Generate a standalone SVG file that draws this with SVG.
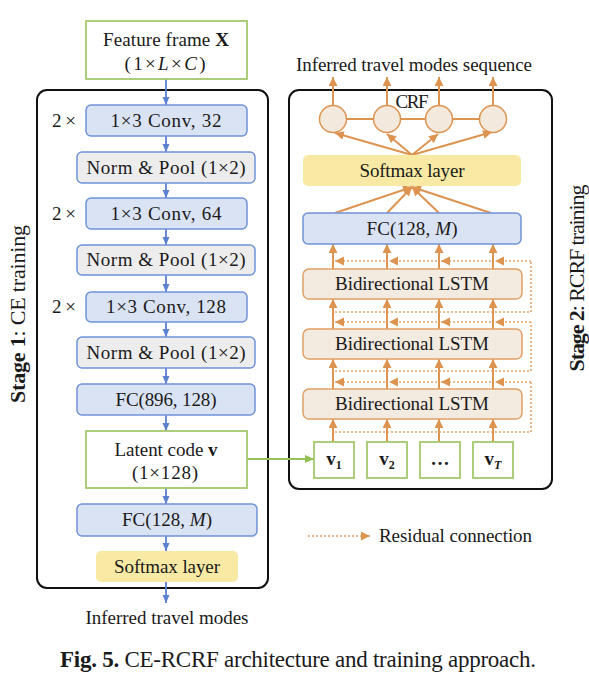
<svg xmlns="http://www.w3.org/2000/svg" width="589" height="682" viewBox="0 0 589 682">
<defs>
<marker id="ab" markerUnits="userSpaceOnUse" markerWidth="9" markerHeight="8" refX="8" refY="4" orient="auto"><path d="M0,0.5 L8,4 L0,7.5 z" fill="#5B80D0"/></marker>
<marker id="ao" markerUnits="userSpaceOnUse" markerWidth="10" markerHeight="10" refX="9" refY="4.5" orient="auto"><path d="M0,0 L9,4.5 L0,9 z" fill="#DE9451"/></marker>
<marker id="ag" markerUnits="userSpaceOnUse" markerWidth="10" markerHeight="10" refX="9" refY="4.5" orient="auto"><path d="M0,0.5 L9,4.5 L0,8.5 z" fill="#8FC050"/></marker>
</defs>
<style>
text{font-family:"Liberation Serif","Times New Roman",serif;font-size:19px;fill:#1a1a1a}
text.stage{font-size:22px}
text.cap{font-size:23px}
.c{text-anchor:middle}
.conv{fill:#DAE3F3;stroke:#7093DA;stroke-width:1.5}
.norm{fill:#EDEDED;stroke:#7093DA;stroke-width:1.5}
.grn{fill:#fff;stroke:#A4C96C;stroke-width:1.8}
.soft{fill:#F8EAA4}
.lstm{fill:#F4EBE0;stroke:#E0A066;stroke-width:1.5}
.crf{fill:#F3E9DD;stroke:#DE9451;stroke-width:1.5}
.frame{fill:none;stroke:#111;stroke-width:2}
.bl{stroke:#5B80D0;stroke-width:1.8;fill:none;marker-end:url(#ab)}
.or{stroke:#DE9451;stroke-width:2;fill:none}
.ora{marker-end:url(#ao)}
.dot{stroke:#E6A46A;stroke-width:1.6;fill:none;stroke-dasharray:2 2}
.dota{marker-end:url(#ao)}
.sub{font-size:12px}
</style>

<rect class="frame" x="37" y="90" width="231" height="498" rx="10"/>
<rect class="frame" x="289" y="90" width="263" height="399" rx="10"/>

<g id="connectors">
<g>
<line class="bl" x1="166" y1="79" x2="166" y2="105"/>
<line class="bl" x1="166" y1="136" x2="166" y2="152"/>
<line class="bl" x1="166" y1="183" x2="166" y2="198"/>
<line class="bl" x1="166" y1="229" x2="166" y2="245"/>
<line class="bl" x1="166" y1="275" x2="166" y2="292"/>
<line class="bl" x1="166" y1="322" x2="166" y2="337"/>
<line class="bl" x1="166" y1="368" x2="166" y2="384"/>
<line class="bl" x1="166" y1="415" x2="166" y2="431"/>
<line class="bl" x1="166" y1="488" x2="166" y2="504"/>
<line class="bl" x1="166" y1="536" x2="166" y2="551"/>
<line class="bl" x1="166" y1="582" x2="166" y2="603"/>
</g>
<path d="M247,459 H314" stroke="#95C25A" stroke-width="1.8" fill="none" marker-end="url(#ag)"/>
<g class="or">
<path d="M346.5,119 H373.5 M400.5,119 H425.5 M452.5,119 H479.5"/>
</g>
<g class="or ora">
<path d="M333,105.5 V77"/><path d="M387,105.5 V77"/><path d="M439,105.5 V77"/><path d="M493,105.5 V77"/>
<path d="M412,155 L335,133"/><path d="M412,155 L387,134"/><path d="M412,155 L438,134"/><path d="M412,155 L492,132"/>
<path d="M335,213 L412,187"/><path d="M387,213 L412,187"/><path d="M439,213 L412,187"/><path d="M491,213 L412,187"/>
<path d="M333,269 V244"/><path d="M387,269 V244"/><path d="M439,269 V244"/><path d="M493,269 V244"/>
<path d="M333,329 V299"/><path d="M387,329 V299"/><path d="M439,329 V299"/><path d="M493,329 V299"/>
<path d="M333,389 V359"/><path d="M387,389 V359"/><path d="M439,389 V359"/><path d="M493,389 V359"/>
<path d="M333,442 V419"/><path d="M387,442 V419"/><path d="M439,442 V419"/><path d="M493,442 V419"/>
</g>
<g class="dot">
<path d="M335,312 H531 V261"/>
<path d="M335,371 H531 V322"/>
<path d="M335,432 H531 V382"/>
</g>
<g class="dot dota">
<path d="M531,261 H495"/><path d="M491,261 H441"/><path d="M437,261 H389"/><path d="M385,261 H335"/>
<path d="M531,322 H495"/><path d="M491,322 H441"/><path d="M437,322 H389"/><path d="M385,322 H335"/>
<path d="M531,382 H495"/><path d="M491,382 H441"/><path d="M437,382 H389"/><path d="M385,382 H335"/>
<path d="M308,536 H370"/>
</g>
</g>

<g id="input-x">
<rect class="grn" x="86" y="21" width="161" height="58"/>
<text class="c" x="166" y="46" textLength="126">Feature frame <tspan font-weight="bold">X</tspan></text>
<text class="c" x="165" y="70" textLength="81">(1×<tspan font-style="italic">L</tspan>×<tspan font-style="italic">C</tspan>)</text>
</g>
<g id="conv32">
<rect class="conv" x="86" y="105" width="161" height="31" rx="5"/>
<text x="64" y="127" class="c" textLength="24">2×</text>
<text class="c" x="166" y="127" textLength="111">1×3 Conv, 32</text>
</g>
<g id="pool1">
<rect class="norm" x="77" y="152" width="178" height="31" rx="5"/>
<text class="c" x="166" y="174" textLength="159">Norm &amp; Pool (1×2)</text>
</g>
<g id="conv64">
<rect class="conv" x="86" y="198" width="161" height="31" rx="5"/>
<text x="64" y="220" class="c" textLength="24">2×</text>
<text class="c" x="166" y="220" textLength="111">1×3 Conv, 64</text>
</g>
<g id="pool2">
<rect class="norm" x="77" y="245" width="178" height="30" rx="5"/>
<text class="c" x="166" y="266" textLength="159">Norm &amp; Pool (1×2)</text>
</g>
<g id="conv128">
<rect class="conv" x="86" y="292" width="161" height="30" rx="5"/>
<text x="64" y="313" class="c" textLength="24">2×</text>
<text class="c" x="166" y="313" textLength="120">1×3 Conv, 128</text>
</g>
<g id="pool3">
<rect class="norm" x="77" y="337" width="178" height="31" rx="5"/>
<text class="c" x="166" y="359" textLength="159">Norm &amp; Pool (1×2)</text>
</g>
<g id="fc896">
<rect class="conv" x="77" y="384" width="178" height="31" rx="5"/>
<text class="c" x="166" y="406" textLength="101">FC(896, 128)</text>
</g>
<g id="latent">
<rect class="grn" x="86" y="431" width="161" height="57"/>
<text class="c" x="166" y="456" textLength="103">Latent code <tspan font-weight="bold">v</tspan></text>
<text class="c" x="165" y="479" textLength="66">(1×128)</text>
</g>
<g id="fc128-left">
<rect class="conv" x="77" y="504" width="180" height="32" rx="5"/>
<text class="c" x="167" y="526" textLength="90">FC(128, <tspan font-style="italic">M</tspan>)</text>
</g>
<g id="softmax-left">
<rect class="soft" x="96" y="551" width="142" height="31" rx="5"/>
<text class="c" x="167" y="573" textLength="106">Softmax layer</text>
</g>
<text class="c" x="167" y="624" textLength="163">Inferred travel modes</text>

<g id="stage1">
<text class="c stage" transform="translate(25,314) rotate(-90)" textLength="178"><tspan font-weight="bold">Stage 1</tspan>: CE training</text>
</g>
<g id="stage2">
<text class="c stage" transform="translate(584,278) rotate(-90)" textLength="187"><tspan font-weight="bold">Stage 2</tspan>: RCRF training</text>
</g>

<text class="c" x="414" y="71" textLength="236">Inferred travel modes sequence</text>
<g id="crf">
<circle class="crf" cx="333" cy="119" r="13.5"/>
<circle class="crf" cx="387" cy="119" r="13.5"/>
<circle class="crf" cx="439" cy="119" r="13.5"/>
<circle class="crf" cx="493" cy="119" r="13.5"/>
<text class="c" x="412" y="108" textLength="33">CRF</text>
</g>
<g id="softmax-right">
<rect class="soft" x="303" y="155" width="218" height="31" rx="5"/>
<text class="c" x="412" y="177" textLength="105">Softmax layer</text>
</g>
<g id="fc128-right">
<rect class="conv" x="303" y="213" width="218" height="31" rx="5"/>
<text class="c" x="412" y="235" textLength="91">FC(128, <tspan font-style="italic">M</tspan>)</text>
</g>
<g id="lstm3">
<rect class="lstm" x="303" y="269" width="219" height="30" rx="6"/>
<text class="c" x="412" y="290" textLength="154">Bidirectional LSTM</text>
</g>
<g id="lstm2">
<rect class="lstm" x="303" y="329" width="219" height="30" rx="6"/>
<text class="c" x="412" y="350" textLength="154">Bidirectional LSTM</text>
</g>
<g id="lstm1">
<rect class="lstm" x="303" y="389" width="219" height="30" rx="6"/>
<text class="c" x="412" y="410" textLength="154">Bidirectional LSTM</text>
</g>
<g id="v1">
<rect class="grn" x="314" y="442" width="40" height="36"/>
<text class="c" x="334" y="465" font-weight="bold">v<tspan class="sub" dy="4">1</tspan></text>
</g>
<g id="v2">
<rect class="grn" x="367" y="442" width="40" height="36"/>
<text class="c" x="387" y="465" font-weight="bold">v<tspan class="sub" dy="4">2</tspan></text>
</g>
<g id="vdots">
<rect class="grn" x="420" y="442" width="40" height="36"/>
<text class="c" x="440" y="465" font-weight="bold">…</text>
</g>
<g id="vT">
<rect class="grn" x="473" y="442" width="40" height="36"/>
<text class="c" x="493" y="465" font-weight="bold">v<tspan class="sub" dy="4" font-style="italic">T</tspan></text>
</g>

<text x="379" y="542" textLength="153">Residual connection</text>
<text class="c cap" x="298" y="667" textLength="476"><tspan font-weight="bold">Fig. 5.</tspan>  CE-RCRF architecture and training approach.</text>
</svg>
